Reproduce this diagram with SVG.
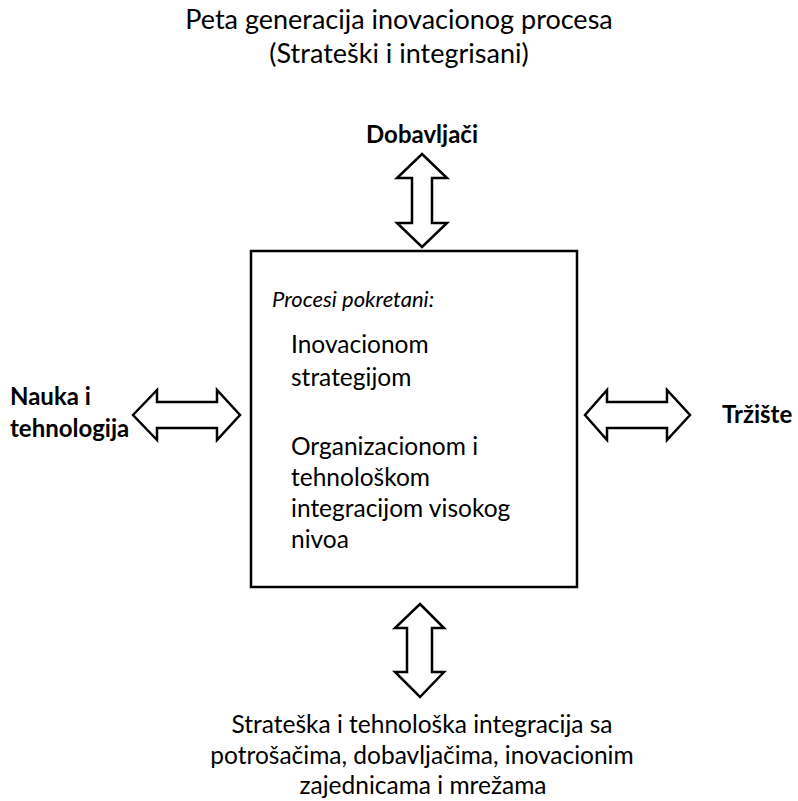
<svg xmlns="http://www.w3.org/2000/svg" width="798" height="801" viewBox="0 0 798 801">
  <style>
    text { font-family: Lato, "Open Sans", "Liberation Sans", sans-serif; fill: #000; }
    .title { font-size: 27px; text-anchor: middle; }
    .foot { font-size: 24.5px; text-anchor: middle; }
    .body { font-size: 24.5px; }
    .it { font-size: 22px; font-style: italic; }
    .lbl { font-size: 24px; font-weight: bold; }
    .frame { fill: #fff; stroke: #000; stroke-width: 2.5; }
    .arrow { fill: #fff; stroke: #000; stroke-width: 2.5; stroke-linejoin: miter; }
  </style>
  <rect width="798" height="801" fill="#fff"/>

  <g id="title">
    <text class="title" x="399" y="29">Peta generacija inovacionog procesa</text>
    <text class="title" x="399" y="63">(Strateški i integrisani)</text>
  </g>

  <g id="process">
    <rect class="frame" x="251" y="251" width="326" height="336"/>
    <text class="it" x="272" y="307">Procesi pokretani:</text>
    <text class="body" x="291" y="353">Inovacionom</text>
    <text class="body" x="291" y="386">strategijom</text>
    <text class="body" x="291" y="455">Organizacionom i</text>
    <text class="body" x="291" y="486">tehnološkom</text>
    <text class="body" x="291" y="517">integracijom visokog</text>
    <text class="body" x="291" y="548">nivoa</text>
  </g>

  <g id="suppliers">
    <text class="lbl" x="422" y="143" text-anchor="middle">Dobavljači</text>
  </g>

  <g id="science">
    <text class="lbl" x="10" y="405">Nauka i</text>
    <text class="lbl" x="10" y="437">tehnologija</text>
  </g>

  <g id="market">
    <text class="lbl" x="722" y="423">Tržište</text>
  </g>

  <g id="integration">
    <text class="foot" x="422" y="733">Strateška i tehnološka integracija sa</text>
    <text class="foot" x="422" y="764">potrošačima, dobavljačima, inovacionim</text>
    <text class="foot" x="423" y="794">zajednicama i mrežama</text>
  </g>

  <g id="connectors">
    <!-- top: suppliers <-> process -->
    <path class="arrow" d="M422 154 L447 178 L432 178 L432 223 L447 223 L422 247 L397 223 L412 223 L412 178 L397 178 Z"/>
    <!-- bottom: process <-> integration -->
    <path class="arrow" d="M420 604 L444 628 L432 628 L432 672 L444 672 L420 697 L395 672 L407 672 L407 628 L395 628 Z"/>
    <!-- left: science <-> process -->
    <path class="arrow" d="M133 415 L157 390 L157 402 L217 402 L217 390 L240 415 L217 440 L217 428 L157 428 L157 440 Z"/>
    <!-- right: process <-> market -->
    <path class="arrow" d="M585 415 L607 390 L607 402 L667 402 L667 390 L690 415 L667 440 L667 428 L607 428 L607 440 Z"/>
  </g>
</svg>
